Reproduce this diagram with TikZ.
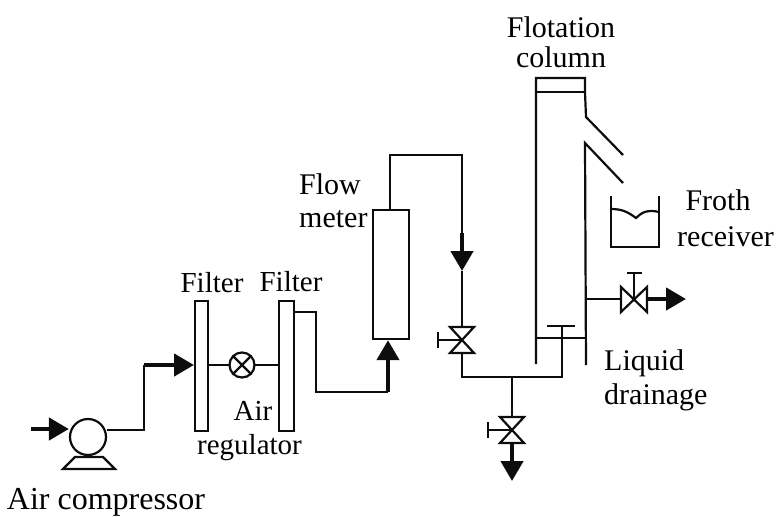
\documentclass[tikz,border=0pt]{standalone}
\usepackage{fontspec}
\setmainfont{Liberation Serif}
\usetikzlibrary{arrows.meta,positioning}
\tikzset{
  pipe/.style={line width=2.2pt,line join=miter,draw=black!95},
  thickpipe/.style={line width=4.4pt,draw=black!95,-{Triangle[length=20pt,width=22pt,sep=0pt]}},
  vessel/.style={draw=black!95,line width=2.2pt,fill=white,rectangle,inner sep=0pt,minimum width=#1,anchor=north west},
  roundpart/.style={draw=black!95,line width=2.2pt,fill=white,circle,inner sep=0pt,minimum size=#1},
  lab/.style={align=center,inner sep=0pt,text=black},
}
\newcommand{\vvalve}[3]{%
  \coordinate (#1) at (#2,#3);
  \coordinate (#1t) at (#2,#3-13);
  \coordinate (#1b) at (#2,#3+13);
  \draw[pipe] (#2-12,#3-13) -- (#2+12,#3-13) -- (#2-12,#3+13) -- (#2+12,#3+13) -- cycle;
  \coordinate (#1h) at (#2-24,#3);
  \draw[pipe] (#1) -- (#1h);
  \draw[pipe] (#2-24,#3-8) -- (#2-24,#3+8);
}
\newcommand{\sz}[2]{\fontsize{#1}{#2}\selectfont}
\begin{document}
\begin{tikzpicture}[x=1pt,y=-1pt]
\useasboundingbox (0,0) rectangle (777,517);
% vessels
\node[vessel=13pt,minimum height=130pt] (f1) at (194,300) {};
\node[vessel=15pt,minimum height=130pt] (f2) at (278,300) {};
\node[vessel=36pt,minimum height=129pt] (meter) at (372,209) {};
\node[roundpart=36pt] (pump) at (88,437) {};
\draw[pipe] (75,457) -- (103,457) -- (115,469) -- (63,469) -- cycle;
% air line
\coordinate (in) at (31,429);
\draw[thickpipe] (in) -- (pump.west |- in);
\coordinate (c1) at (144,430);
\coordinate (c2) at (144,365);
\draw[pipe] (pump.east |- c1) -- (c1) -- (c2);
\draw[thickpipe] (c2) -- (f1.west |- c2);
\draw[pipe] (f1.east |- c2) -- (f2.west |- c2);
\node[roundpart=25pt] (reg) at (242,365) {};
\draw[pipe] (reg.45) -- (reg.225) (reg.135) -- (reg.315);
% filter to meter
\coordinate (c3) at (316,312);
\coordinate (c4) at (316,392);
\coordinate (c5) at (388,392);
\draw[pipe] (f2.east |- c3) -- (c3) -- (c4) -- (c5);
\draw[thickpipe] (c5) -- (c5 |- meter.south);
% meter to valve
\vvalve{va}{462}{340}
\coordinate (m1) at (390,155);
\coordinate (m2) at (462,155);
\coordinate (m3) at (462,233);
\draw[pipe] (m1 |- meter.north) -- (m1) -- (m2) -- (m3);
\draw[thickpipe] (m3) -- (462,271);
\draw[pipe] (462,271) -- (vat);
% manifold
\coordinate (j1) at (462,377);
\coordinate (j2) at (512,377);
\coordinate (j3) at (562,377);
\coordinate (j4) at (562,326);
\draw[pipe] (vab) -- (j1) -- (j3) -- (j4);
\draw[pipe] (547,326) -- (575,326);
% drain valve
\vvalve{vb}{512}{430}
\draw[pipe] (j2) -- (vbt);
\draw[thickpipe] (vbb) -- (512,481);
% column
\draw[pipe] (536,364) -- (536,78) -- (585,78) -- (585,92) -- (586,117) -- (623,155);
\draw[pipe] (536,92) -- (585,92);
\draw[pipe] (623,183) -- (585,143) -- (586,365);
\draw[pipe] (536,338) -- (585,338);
% froth receiver
\draw[pipe] (611,196) -- (611,247) -- (659,247) -- (659,196);
\draw[pipe] (611,209) .. controls (622,209) and (628,212) .. (636,218) .. controls (641,213) and (647,209) .. (659,212);
% side valve
\coordinate (vc) at (634,299);
\draw[pipe] (621,287) -- (647,312) -- (647,287) -- (621,312) -- cycle;
\draw[pipe] (vc) -- (634,273);
\draw[pipe] (627,273) -- (642,273);
\draw[pipe] (585,299) -- (621,299);
\draw[thickpipe] (647,299) -- (686,299);
% labels
\node[lab,font=\sz{29}{33}] (lf1) at (212,283) {Filter};
\node[lab,font=\sz{29}{33}] (lf2) at (291,282) {Filter};
\node[lab,font=\sz{29}{34}] (lr) at (249.5,431) {\hspace*{7pt}Air\\regulator};
\node[lab,font=\sz{32}{36}] (lc) at (106,502.5) {Air compressor};
\node[lab,font=\sz{30}{33},anchor=north west,align=left] (lm) at (299,173) {Flow\\meter};
\node[lab,font=\sz{30}{30}] (lt) at (561,42) {Flotation\\column};
\node[lab,font=\sz{30}{36}] (lg) at (725.5,218) {Froth\hspace*{15pt}\\receiver};
\node[lab,font=\sz{30}{34},anchor=north west,align=left] (ld) at (604,349) {Liquid\\drainage};
\end{tikzpicture}
\end{document}
